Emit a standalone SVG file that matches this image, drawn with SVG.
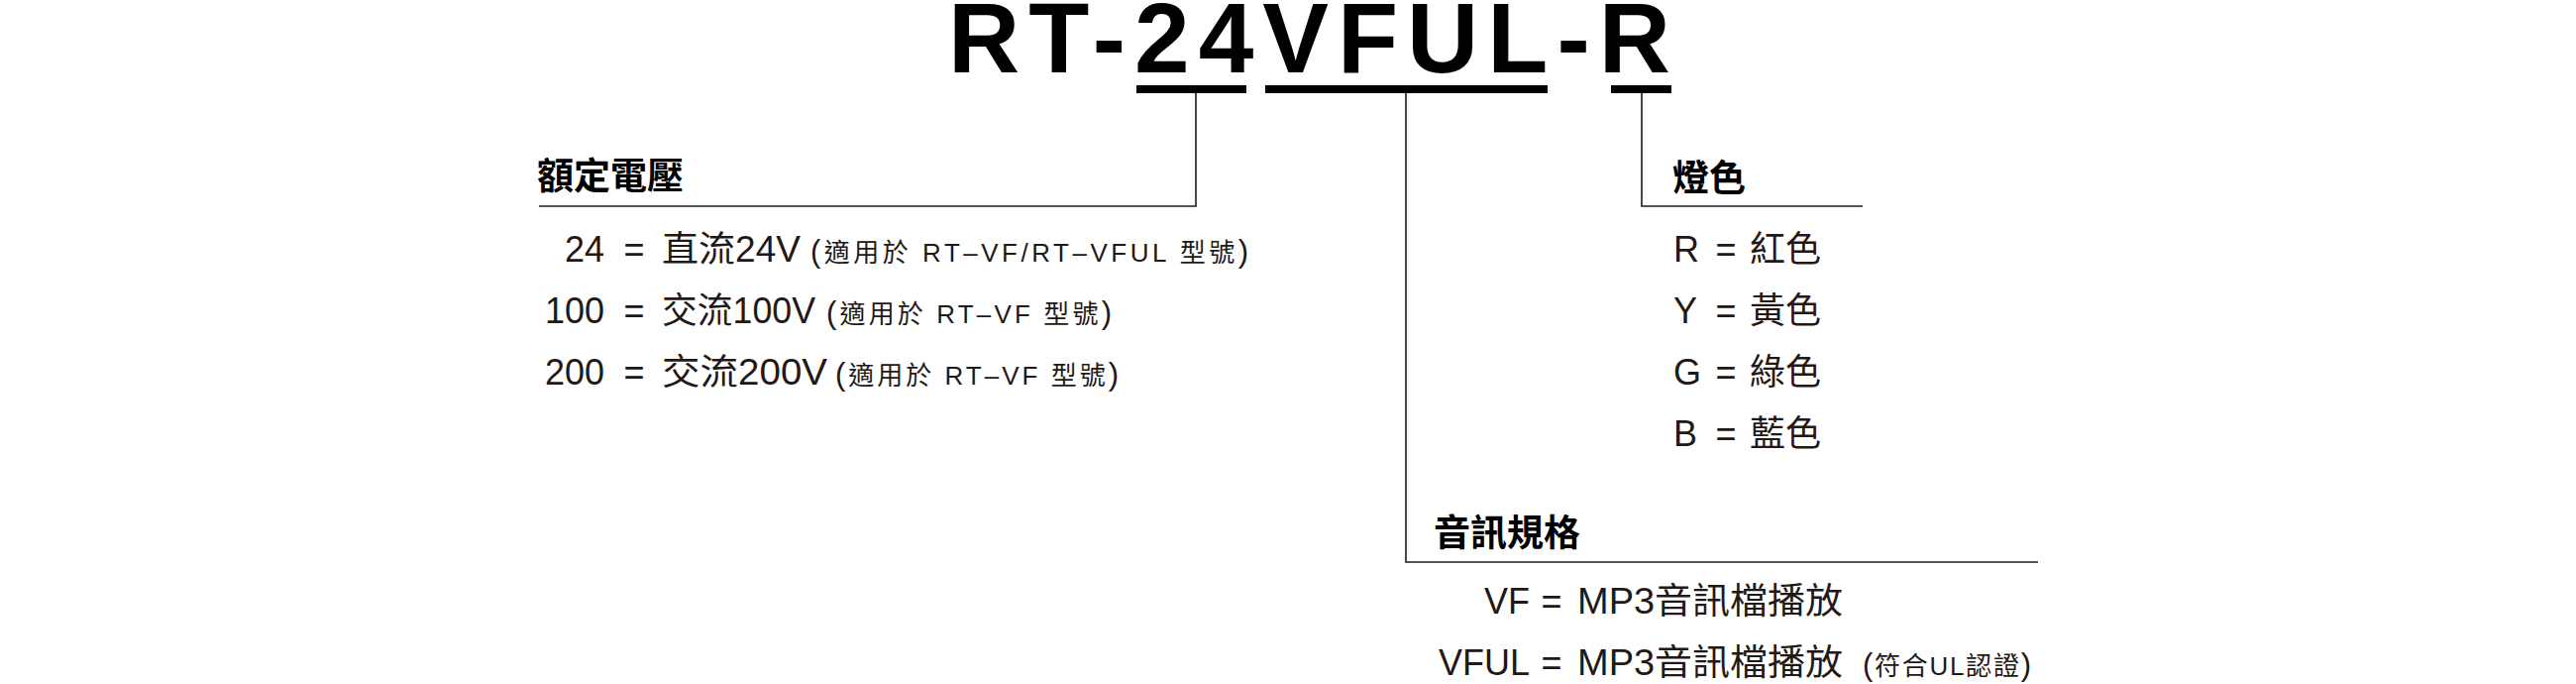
<svg xmlns="http://www.w3.org/2000/svg" width="2600" height="690" viewBox="0 0 2600 690">
<style>
.title{font-family:"Liberation Sans",Arial,sans-serif;font-weight:bold;font-size:100px;fill:#000;letter-spacing:9px}
.head{font-family:"Noto Sans CJK TC","Noto Sans CJK SC",sans-serif;font-weight:bold;font-size:37px;fill:#000}
.body{font-family:"Liberation Sans","Noto Sans CJK TC",sans-serif;font-size:36px;fill:#231815}
.small{font-family:"Liberation Sans","Noto Sans CJK TC",sans-serif;font-size:26px;fill:#231815}
.par{font-size:31px}
.end{text-anchor:end}
.mid{text-anchor:middle}
.bar{fill:#000}
.conn{fill:none;stroke:#231815;stroke-width:1.6}
</style>
<rect width="2600" height="690" fill="#fff"/>
<g id="title">
<text class="title" x="957" y="73">RT-24VFUL-R</text>
<rect class="bar" x="1147" y="86" width="111" height="8"/>
<rect class="bar" x="1277" y="86" width="285" height="8"/>
<rect class="bar" x="1626" y="86" width="61" height="8"/>
</g>
<g id="connectors">
<polyline class="conn" points="1207,94 1207,208 544,208"/>
<polyline class="conn" points="1419,94 1419,567 2057,567"/>
<polyline class="conn" points="1657,94 1657,208 1880,208"/>
</g>
<g id="voltage">
<text class="head" x="542" y="191">額定電壓</text>
<text class="body end" x="610" y="264">24</text>
<text class="body mid" x="640" y="264">=</text>
<text class="body" x="668" y="264" textLength="140" lengthAdjust="spacingAndGlyphs">直流24V</text>
<text class="small" x="818" y="264" textLength="442" lengthAdjust="spacing"><tspan class="par">(</tspan>適用於 RT–VF/RT–VFUL 型號<tspan class="par">)</tspan></text>
<text class="body end" x="610" y="326">100</text>
<text class="body mid" x="640" y="326">=</text>
<text class="body" x="668" y="326" textLength="155" lengthAdjust="spacingAndGlyphs">交流100V</text>
<text class="small" x="834" y="326" textLength="288" lengthAdjust="spacing"><tspan class="par">(</tspan>適用於 RT–VF 型號<tspan class="par">)</tspan></text>
<text class="body end" x="610" y="388">200</text>
<text class="body mid" x="640" y="388">=</text>
<text class="body" x="668" y="388" textLength="167" lengthAdjust="spacingAndGlyphs">交流200V</text>
<text class="small" x="843" y="388" textLength="286" lengthAdjust="spacing"><tspan class="par">(</tspan>適用於 RT–VF 型號<tspan class="par">)</tspan></text>
</g>
<g id="color">
<text class="head" x="1688" y="193">燈色</text>
<text class="body" x="1689" y="264">R</text>
<text class="body mid" x="1742" y="264">=</text>
<text class="body" x="1766" y="264">紅色</text>
<text class="body" x="1689" y="326">Y</text>
<text class="body mid" x="1742" y="326">=</text>
<text class="body" x="1766" y="326">黃色</text>
<text class="body" x="1689" y="388">G</text>
<text class="body mid" x="1742" y="388">=</text>
<text class="body" x="1766" y="388">綠色</text>
<text class="body" x="1689" y="450">B</text>
<text class="body mid" x="1742" y="450">=</text>
<text class="body" x="1766" y="450">藍色</text>
</g>
<g id="audio">
<text class="head" x="1447" y="551">音訊規格</text>
<text class="body end" x="1544" y="619">VF</text>
<text class="body mid" x="1566" y="619">=</text>
<text class="body" x="1592" y="619" textLength="268" lengthAdjust="spacingAndGlyphs">MP3音訊檔播放</text>
<text class="body end" x="1544" y="681">VFUL</text>
<text class="body mid" x="1566" y="681">=</text>
<text class="body" x="1592" y="681" textLength="268" lengthAdjust="spacingAndGlyphs">MP3音訊檔播放</text>
<text class="small" x="1880" y="681" textLength="170" lengthAdjust="spacing"><tspan class="par">(</tspan>符合UL認證<tspan class="par">)</tspan></text>
</g>
</svg>
